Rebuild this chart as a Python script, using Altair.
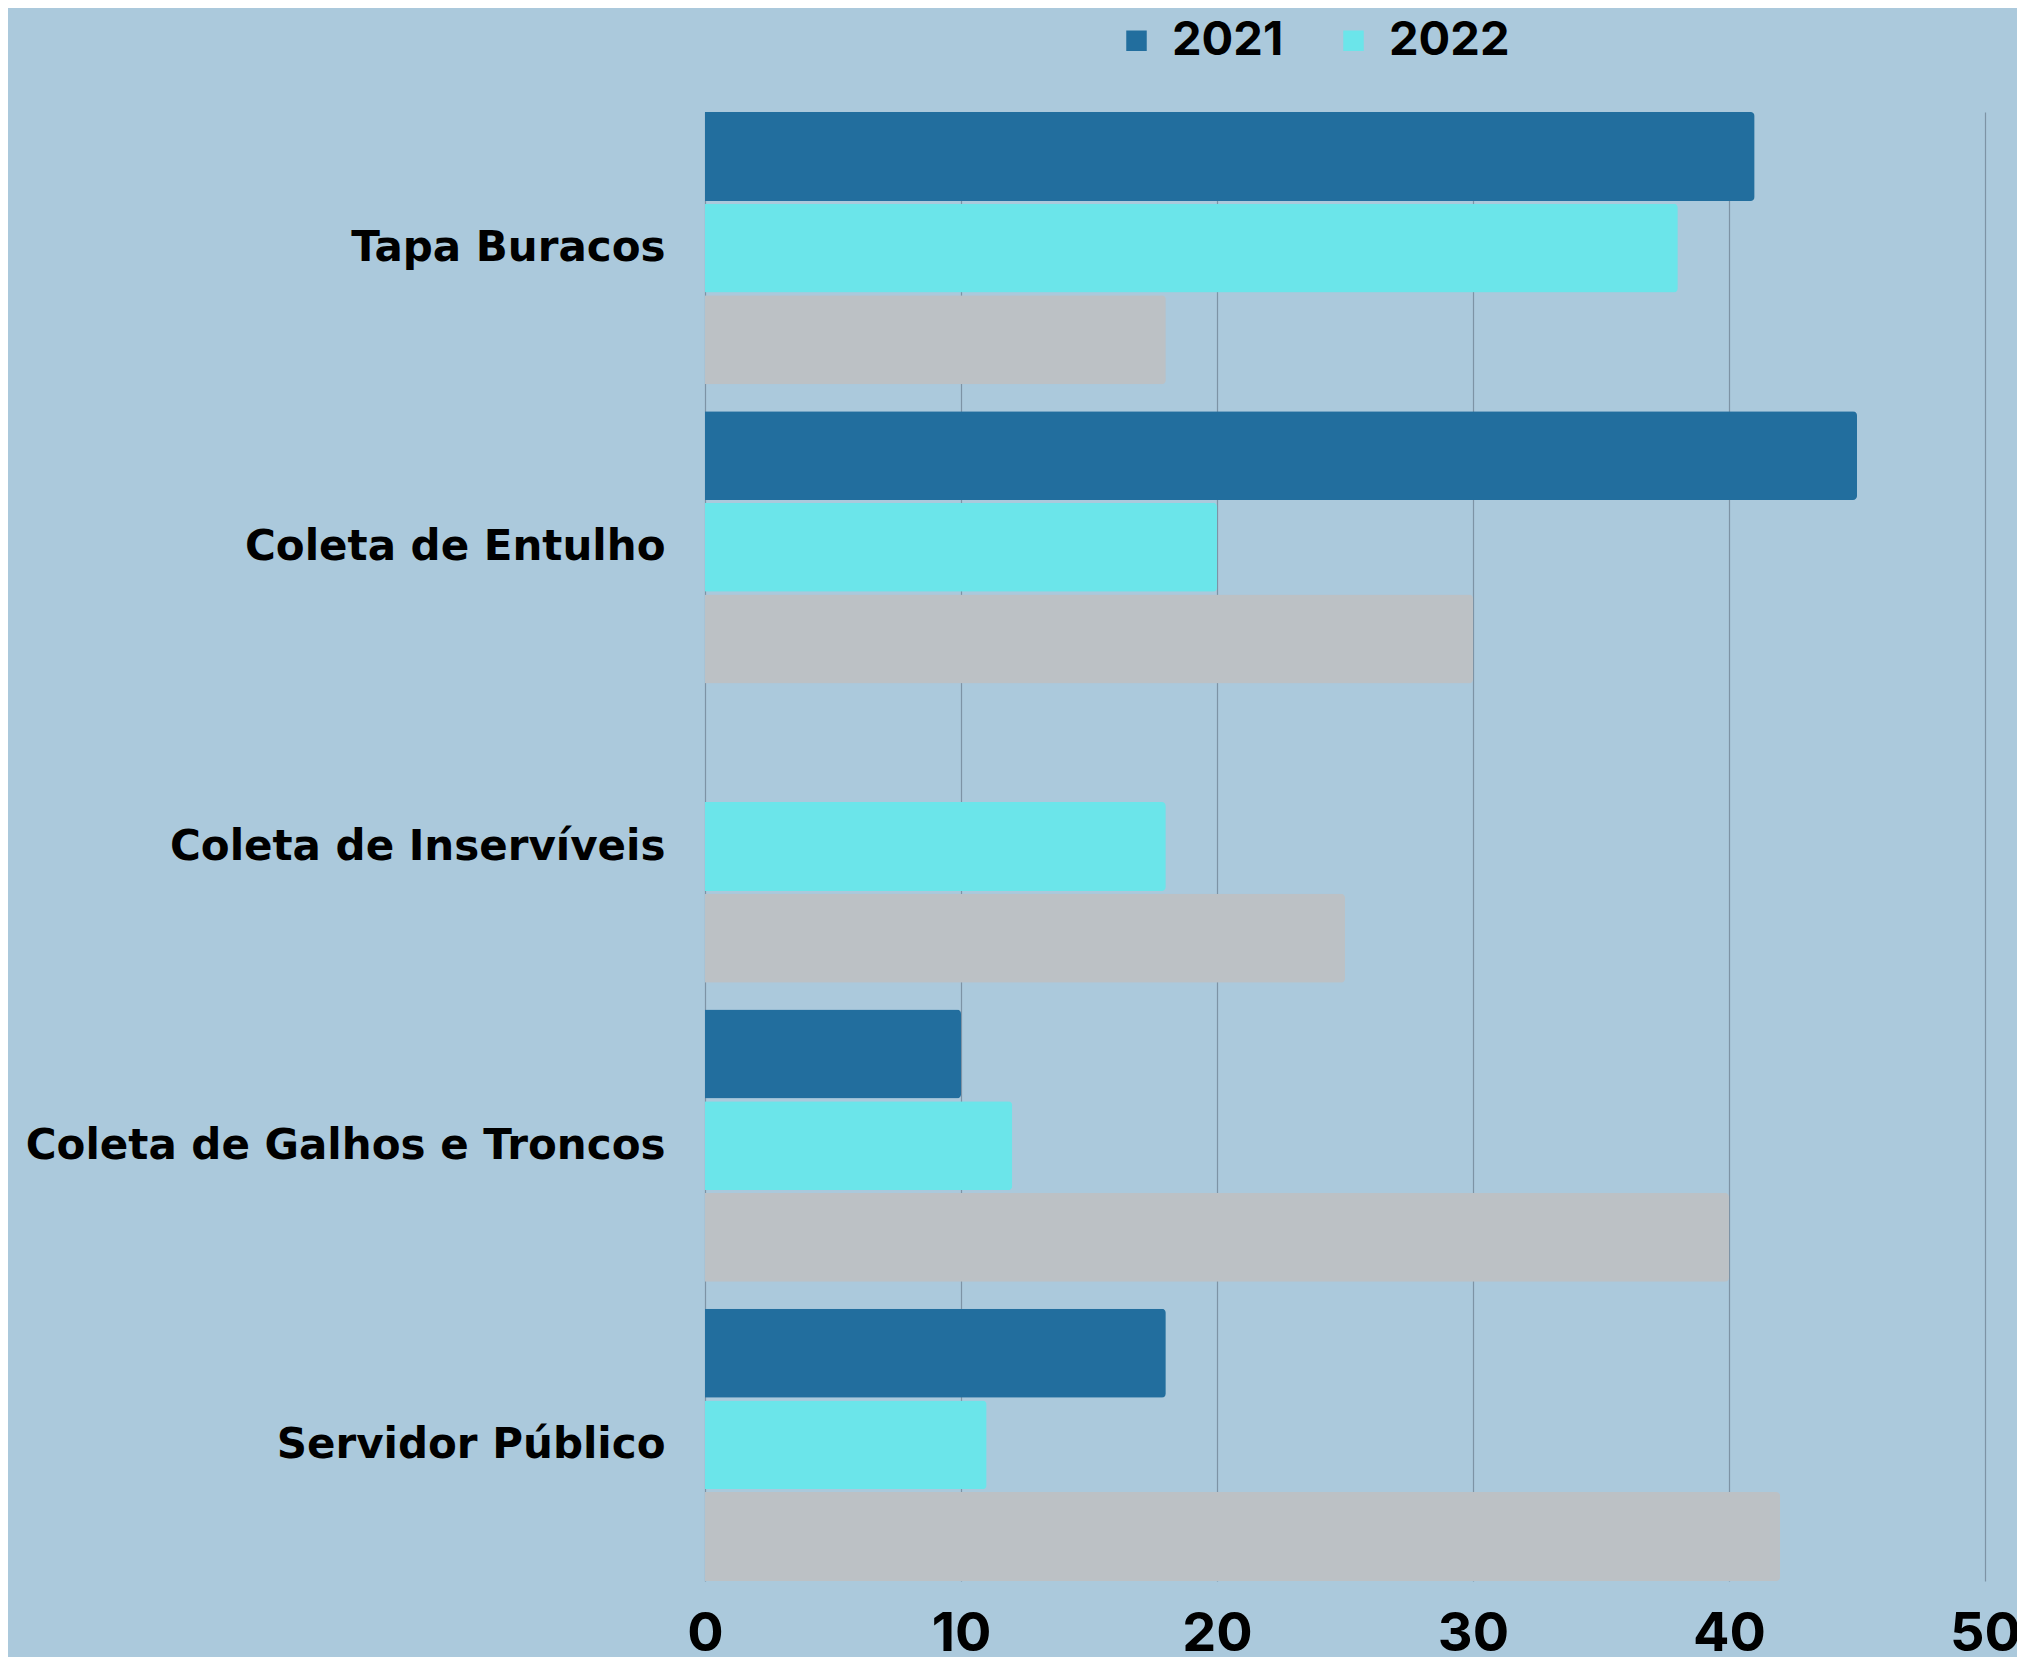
import altair as alt
import pandas as pd

categories = ["Tapa Buracos", "Coleta de Entulho", "Coleta de Inservíveis",
              "Coleta de Galhos e Troncos", "Servidor Público"]
series = ["2021", "2022", "2023"]
values_2021 = [41, 45, 0, 10, 18]
values_2022 = [38, 20, 18, 12, 11]
values_2023 = [18, 30, 25, 40, 42]
colors = ["#226e9e", "#6be5ea", "#bcc1c5"]
x_ticks = [0, 10, 20, 30, 40, 50]

rows = []
for s, vals in zip(series, [values_2021, values_2022, values_2023]):
    for c, v in zip(categories, vals):
        rows.append({"categoria": c, "serie": s, "valor": v})
df = pd.DataFrame(rows)

FONT = "Inter"

chart = alt.Chart(df).mark_bar(cornerRadiusEnd=4).encode(
    y=alt.Y("categoria:N", sort=categories, title=None,
            scale=alt.Scale(paddingInner=0.09, paddingOuter=0),
            axis=alt.Axis(labelFont="DejaVu Sans", labelFontSize=42, labelFontWeight="bold",
                          labelColor="#000000", labelPadding=40, ticks=False,
                          domain=False, grid=False, labelLimit=1000)),
    yOffset=alt.YOffset("serie:N", sort=series,
                        scale=alt.Scale(paddingInner=0.03, paddingOuter=0)),
    x=alt.X("valor:Q", title=None,
            scale=alt.Scale(domain=[0, 50], nice=False),
            axis=alt.Axis(values=x_ticks, labelFont=FONT, labelFontSize=54,
                          labelFontWeight="bold", labelColor="#000000",
                          labelPadding=26, ticks=False, domain=False,
                          grid=True, gridColor="#7d93a5", gridWidth=1.2,
                          labelFlush=False)),
    color=alt.Color("serie:N", sort=series,
                    scale=alt.Scale(domain=series, range=colors),
                    legend=alt.Legend(values=["2021", "2022"], title=None,
                                      orient="none", legendX=408, legendY=-95,
                                      direction="horizontal", symbolType="square",
                                      symbolSize=420, symbolStrokeWidth=0,
                                      labelFont=FONT, labelFontSize=47,
                                      labelFontWeight="bold", labelColor="#000000",
                                      labelOffset=12, columnPadding=46)),
).properties(
    width=1280,
    height=1469,
    background="#abc9dc",
    padding={"left": 697, "top": 104, "right": 32, "bottom": 80},
    autosize=alt.AutoSizeParams(type="none"),
).configure_view(stroke=None)

chart.save("out.html", embed_options={"renderer": "svg", "actions": False})
